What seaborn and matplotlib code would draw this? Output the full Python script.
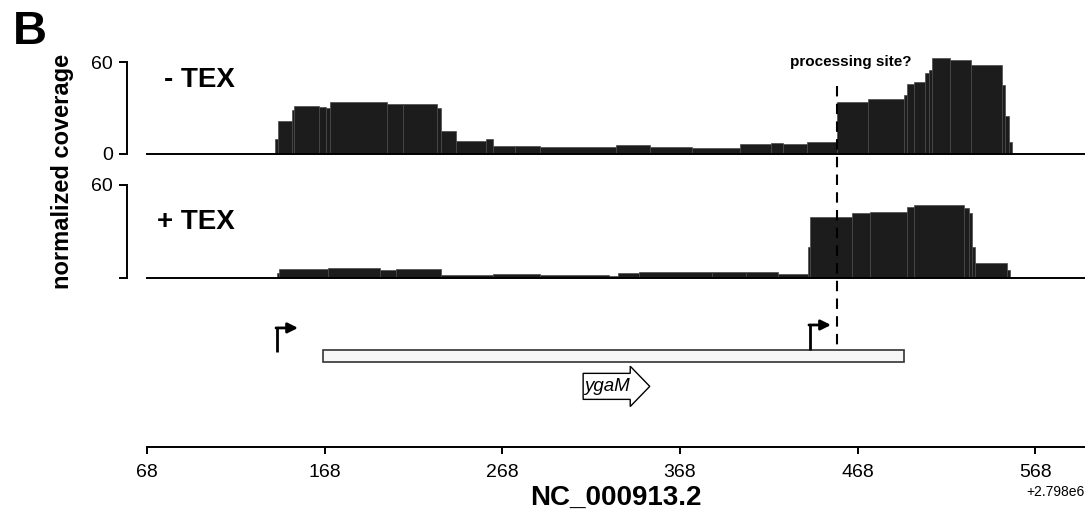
import matplotlib
matplotlib.use('Agg')
import matplotlib.pyplot as plt
import matplotlib.transforms as mtransforms
from matplotlib.lines import Line2D
from matplotlib.patches import Rectangle, FancyArrow
import pandas as pd
import seaborn as sns

# Genome coordinates are stored relative to this offset
OFFSET = 2798000

# - TEX coverage: segment edges (bp) and mean coverage in each segment
minus_edges = [140, 141.5, 149.5, 151, 165, 169, 171, 203, 212, 231, 233.5, 242, 259, 263,
               275, 289, 332, 351, 375, 402, 419, 426, 439.5, 456.3, 474, 494, 496, 499.5,
               506, 508, 510, 520, 532, 549, 551, 553, 555]
minus_cov = [10, 21.5, 29, 31.5, 30.8, 29.8, 33.7, 32.8, 32.6, 30, 15, 8.7, 9.8,
             5.4, 5.0, 4.4, 5.9, 4.8, 3.7, 6.3, 7.2, 6.3, 8, 34.1, 35.7, 38.5, 46,
             47.2, 52.6, 55, 62.4, 61.5, 58, 45, 25, 8]

# + TEX coverage
plus_edges = [141, 142.5, 170, 199, 208, 233.5, 263, 289, 328, 333, 345, 386, 405, 423,
              440, 441, 465, 475, 496, 500, 528, 530.5, 532.5, 534, 552, 554]
plus_cov = [3, 5.4, 6.0, 5.0, 5.6, 1.7, 2.2, 1.8, 1.3, 2.8, 3.5, 3.9, 3.4, 2.4,
            20, 39, 42, 42.6, 45.8, 46.9, 45, 41.7, 20, 9.3, 5]

# annotation track
tss = [141, 441]
gene_start, gene_end = 167, 494
processing_site = 456.6
x_ticks = [68, 168, 268, 368, 468, 568]
x_range = (68, 596)

sns.set_theme(style='ticks')
plt.rcParams['font.family'] = ['Liberation Sans', 'DejaVu Sans']
plt.rcParams['axes.linewidth'] = 1.4
plt.rcParams['axes.edgecolor'] = 'black'
plt.rcParams['text.color'] = 'black'
plt.rcParams['axes.labelcolor'] = 'black'
plt.rcParams['xtick.color'] = 'black'
plt.rcParams['ytick.color'] = 'black'

fig = plt.figure(figsize=(10.85, 5.16), dpi=100)
ax3 = fig.add_axes([0.1355, 0.1337, 0.8645, 0.2849])
ax1 = fig.add_axes([0.1355, 0.7016, 0.8645, 0.190], sharex=ax3)
ax2 = fig.add_axes([0.1355, 0.4618, 0.8645, 0.1922], sharex=ax3)

bar_color = '#1c1c1c'
for ax, edges, cov in [(ax1, minus_edges, minus_cov), (ax2, plus_edges, plus_cov)]:
    bins = [e + OFFSET for e in edges]
    seg = pd.DataFrame({'pos': bins[:-1], 'cov': cov})
    sns.histplot(data=seg, x='pos', weights='cov', bins=bins, ax=ax, element='bars',
                 fill=True, color=bar_color, alpha=1, edgecolor='#4a4a4a', linewidth=0.5)
    ax.set_ylim(0, 64)
    ax.set_yticks([0, 60])
    ax.set_xlabel('')
    ax.set_ylabel('')
    ax.tick_params(axis='x', bottom=False, labelbottom=False)
    ax.tick_params(axis='y', length=6, width=1.4, labelsize=14, pad=4)
    ax.spines['left'].set_position(('outward', 14.5))
    ax.spines['left'].set_bounds(0, 60)
    sns.despine(ax=ax)

ax1.set_yticklabels(['0', '60'])
ax2.set_yticklabels(['', '60'])

lab_tr1 = mtransforms.blended_transform_factory(ax1.transAxes, ax1.transData)
lab_tr2 = mtransforms.blended_transform_factory(ax2.transAxes, ax2.transData)
ax1.text(0.0938, 48, '- TEX', transform=lab_tr1, ha='right', va='center',
         fontsize=20, fontweight='bold')
ax2.text(0.0938, 36, '+ TEX', transform=lab_tr2, ha='right', va='center',
         fontsize=20, fontweight='bold')

# gene track
ax3.set_ylim(0, 1)
ax3.set_xlim(x_range[0] + OFFSET, x_range[1] + OFFSET)
ax3.add_patch(Rectangle((gene_start + OFFSET, 0.58), gene_end - gene_start, 0.08,
                        facecolor='#f7f7f7', edgecolor='#333333', linewidth=1.2))
for x, y0, y1 in [(tss[0], 0.648, 0.81), (tss[1], 0.66, 0.83)]:
    ax3.plot([x + OFFSET, x + OFFSET], [y0, y1], color='black', lw=2,
             solid_capstyle='butt')
    ax3.annotate('', xy=(x + OFFSET + 12, y1), xytext=(x + OFFSET - 0.4, y1),
                 arrowprops=dict(arrowstyle='-|>', lw=2, color='black',
                                 mutation_scale=15, shrinkA=0, shrinkB=0))
ax3.add_patch(FancyArrow(313.5 + OFFSET, 0.4125, 37.5, 0, width=0.177, head_width=0.274,
                         head_length=11, length_includes_head=True,
                         facecolor='white', edgecolor='black', linewidth=1.0))
ax3.text(327 + OFFSET, 0.415, 'ygaM', style='italic', fontsize=13.5,
         ha='center', va='center')

ax3.set_xticks([t + OFFSET for t in x_ticks])
ax3.set_yticks([])
ax3.tick_params(axis='x', length=5, width=1.4, labelsize=14, pad=7)
ax3.xaxis.get_offset_text().set_fontsize(10)
ax3.set_xlabel('NC_000913.2', fontsize=20, fontweight='bold', labelpad=3)
sns.despine(ax=ax3, left=True)

# processing site marker across both coverage panels
dash_tr = mtransforms.blended_transform_factory(ax1.transData, fig.transFigure)
fig.add_artist(Line2D([processing_site + OFFSET] * 2, [0.8333, 0.3217], transform=dash_tr,
                      color='black', lw=1.5, linestyle=(0, (5, 3.5))))
ax1.text(464.4 + OFFSET, 1 - 62 / 516, 'processing site?', transform=dash_tr,
         ha='center', va='center', fontsize=11, fontweight='bold')

fig.text(62 / 1085, 1 - 171.5 / 516, 'normalized coverage', rotation=90,
         ha='center', va='center', fontsize=17, fontweight='bold')
fig.text(0.012, 1 - 10 / 516, 'B', ha='left', va='top', fontsize=34, fontweight='bold')

fig.savefig('out.png', dpi=100)
